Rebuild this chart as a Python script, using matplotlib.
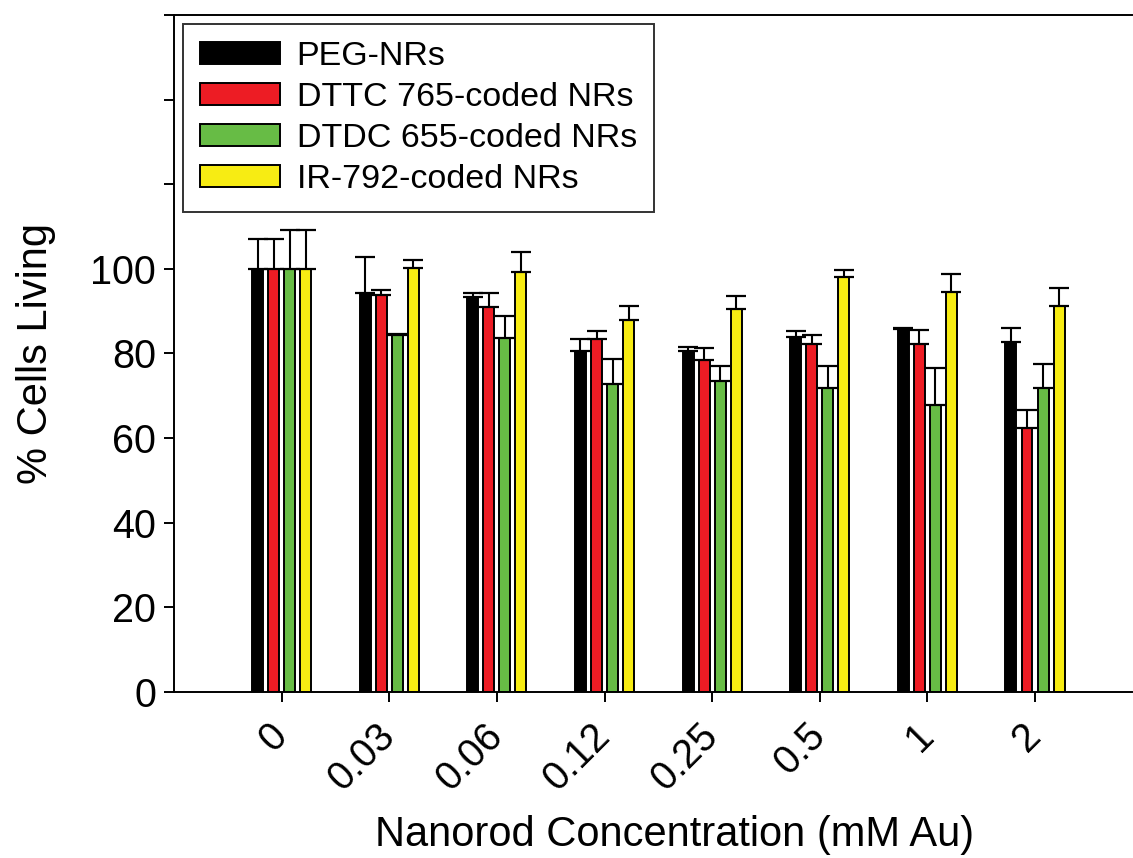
import numpy as np
import matplotlib
matplotlib.use('Agg')
import matplotlib.pyplot as plt

plt.rcParams['font.family'] = ['Liberation Sans', 'DejaVu Sans']

# data
conc = ['0', '0.03', '0.06', '0.12', '0.25', '0.5', '1', '2']
peg = [100, 94.4, 93.3, 80.5, 80.7, 83.9, 85.7, 82.6]
peg_err = [7.1, 8.3, 1.1, 3.0, 0.9, 1.5, 0.3, 3.5]
dttc = [100, 93.9, 91.1, 83.5, 78.4, 82.3, 82.3, 62.3]
dttc_err = [7.0, 1.1, 3.1, 1.8, 2.9, 2.0, 3.2, 4.3]
dtdc = [100, 84.4, 83.7, 72.7, 73.5, 71.9, 67.9, 71.9]
dtdc_err = [9.2, 0.2, 5.2, 6.0, 3.6, 5.2, 8.7, 5.5]
ir792 = [100, 100.3, 99.2, 87.8, 90.5, 98.0, 94.6, 91.3]
ir792_err = [9.2, 1.7, 4.9, 3.5, 3.0, 1.8, 4.1, 4.1]

series = [
    ('PEG-NRs', peg, peg_err, '#000000'),
    ('DTTC 765-coded NRs', dttc, dttc_err, '#ED1C24'),
    ('DTDC 655-coded NRs', dtdc, dtdc_err, '#67BC45'),
    ('IR-792-coded NRs', ir792, ir792_err, '#F7EC13'),
]

fig = plt.figure(figsize=(11.33, 8.58), dpi=100)
ax = fig.add_axes([0.1536, 0.1935, 0.8454, 0.789])

x = np.arange(len(conc))
step = 0.149
width = 0.102
for i, (name, vals, err, col) in enumerate(series):
    pos = x + (i - 1.5) * step
    ax.bar(pos, vals, width, color=col, edgecolor='black', linewidth=1.4, label=name, zorder=2)
    ax.errorbar(pos, vals, yerr=[np.zeros(len(err)), err], fmt='none', ecolor='black',
                elinewidth=1.5, capsize=7.2, capthick=1.6, zorder=3)

ax.set_xlim(-1.0, 7.9)
ax.set_ylim(0, 160)
ax.set_yticks(np.arange(0, 161, 20))
ax.set_yticklabels(['0', '20', '40', '60', '80', '100', '', '', ''])
ax.set_xticks(x)
ax.set_xticklabels(conc)
plt.setp(ax.get_xticklabels(), rotation=45, ha='right', va='center', rotation_mode='anchor')

ax.tick_params(axis='both', direction='out', length=7, width=1.4, labelsize=28.5)
ax.tick_params(axis='x', pad=20)
ax.tick_params(axis='y', pad=6)
ax.spines['right'].set_visible(False)
for s in ['left', 'bottom', 'top']:
    ax.spines[s].set_linewidth(1.4)

ax.set_xlabel('Nanorod Concentration (mM Au)', fontsize=30)
ax.set_ylabel('% Cells Living', fontsize=30)
ax.xaxis.set_label_coords(0.523, -0.182)
ax.yaxis.set_label_coords(-0.123, 0.5)

leg = ax.legend(loc='upper left', fontsize=24.5, frameon=True, fancybox=False,
                handlelength=2.35, handleheight=0.62, handletextpad=0.5,
                labelspacing=0.3, borderaxespad=0.25, borderpad=0.5)
leg.get_frame().set_edgecolor('black')
leg.get_frame().set_linewidth(1.4)

plt.savefig('out.png', dpi=100)
